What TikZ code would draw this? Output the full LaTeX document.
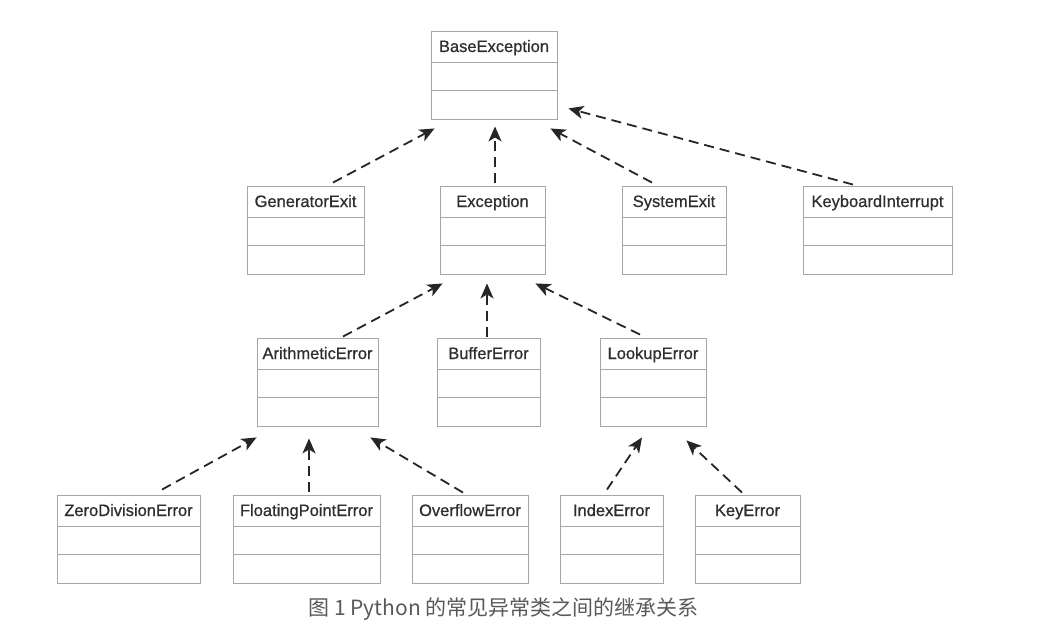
\documentclass[tikz,border=0pt]{standalone}
\usepackage{fontspec}
\setmainfont{Liberation Sans}
\newfontfamily\clsfont[FakeBold=0.7]{Liberation Sans}
\newfontfamily\cjkfont{Noto Sans CJK SC}
\usetikzlibrary{arrows.meta}

\tikzset{
  cls/.style={draw=gray!70, line width=0.9pt, fill=white, text=black!82,
    font=\clsfont\fontsize{16.5}{20}\selectfont, inner ysep=9pt,
    text height=12pt, text depth=58pt, minimum height=88pt,
    path picture={\draw[gray!70, line width=0.9pt]
      ([yshift=-31pt]path picture bounding box.north west) -- ([yshift=-31pt]path picture bounding box.north east)
      ([yshift=-59pt]path picture bounding box.north west) -- ([yshift=-59pt]path picture bounding box.north east);}},
  inh/.style={draw=black!85, line width=1.8pt, dash pattern=on 10pt off 6pt,
    -{Stealth[length=15pt,width=13pt,inset=4pt]}}
}

\begin{document}
\begin{tikzpicture}[x=1pt, y=-1pt]
\useasboundingbox (0,0) rectangle (1045,634);

% classes
\node[cls, minimum width=126pt] (base) at (494,75) {BaseException};

\node[cls, minimum width=117pt] (gen) at (305.5,230) {GeneratorExit};
\node[cls, minimum width=105pt] (exc) at (492.5,230) {Exception};
\node[cls, minimum width=104pt] (sys) at (674,230) {SystemExit};
\node[cls, minimum width=149pt] (kbd) at (877.5,230) {KeyboardInterrupt};

\node[cls, minimum width=121pt] (arith) at (317.5,382) {ArithmeticError};
\node[cls, minimum width=103pt] (buf) at (488.5,382) {BufferError};
\node[cls, minimum width=106pt] (look) at (653,382) {LookupError};

\node[cls, minimum width=143pt] (zero) at (128.5,539) {ZeroDivisionError};
\node[cls, minimum width=147pt] (float) at (306.5,539) {FloatingPointError};
\node[cls, minimum width=116pt] (over) at (470,539) {OverflowError};
\node[cls, minimum width=103pt] (index) at (611.5,539) {IndexError};
\node[cls, minimum width=105pt] (key) at (747.5,539) {KeyError};

% inheritance
\draw[inh] ([shift={(27.5pt,3pt)}]gen.north) -- ([shift={(4pt,-9pt)}]base.south west);
\draw[inh] ([shift={(2.5pt,3pt)}]exc.north) -- ([shift={(1pt,-7pt)}]base.south);
\draw[inh] ([shift={(-22pt,3pt)}]sys.north) -- ([shift={(-7pt,-9pt)}]base.south east);
\draw[inh] ([shift={(-24.5pt,1pt)}]kbd.north) -- ([shift={(11pt,11pt)}]base.south east);

\draw[inh] ([shift={(25.5pt,1pt)}]arith.north) -- ([shift={(3pt,-9pt)}]exc.south west);
\draw[inh] ([shift={(-1.5pt,1pt)}]buf.north) -- ([shift={(-5.5pt,-9pt)}]exc.south);
\draw[inh] ([shift={(-13pt,3pt)}]look.north) -- ([shift={(-10pt,-9pt)}]exc.south east);

\draw[inh] ([shift={(33.5pt,5pt)}]zero.north) -- ([shift={(0pt,-11pt)}]arith.south west);
\draw[inh] ([shift={(2.5pt,3pt)}]float.north) -- ([shift={(-8.5pt,-12pt)}]arith.south);
\draw[inh] ([shift={(-7pt,2pt)}]over.north) -- ([shift={(-8pt,-11pt)}]arith.south east);

\draw[inh] ([shift={(-4.5pt,5pt)}]index.north) -- ([shift={(-11pt,-11pt)}]look.south);
\draw[inh] ([shift={(-5.5pt,2pt)}]key.north) -- ([shift={(-20pt,-14pt)}]look.south east);

% caption
\node[font=\cjkfont\fontsize{21}{25}\selectfont, text=black!65] (cap) at (503.5,609) {图 1 Python 的常见异常类之间的继承关系};
\end{tikzpicture}
\end{document}
